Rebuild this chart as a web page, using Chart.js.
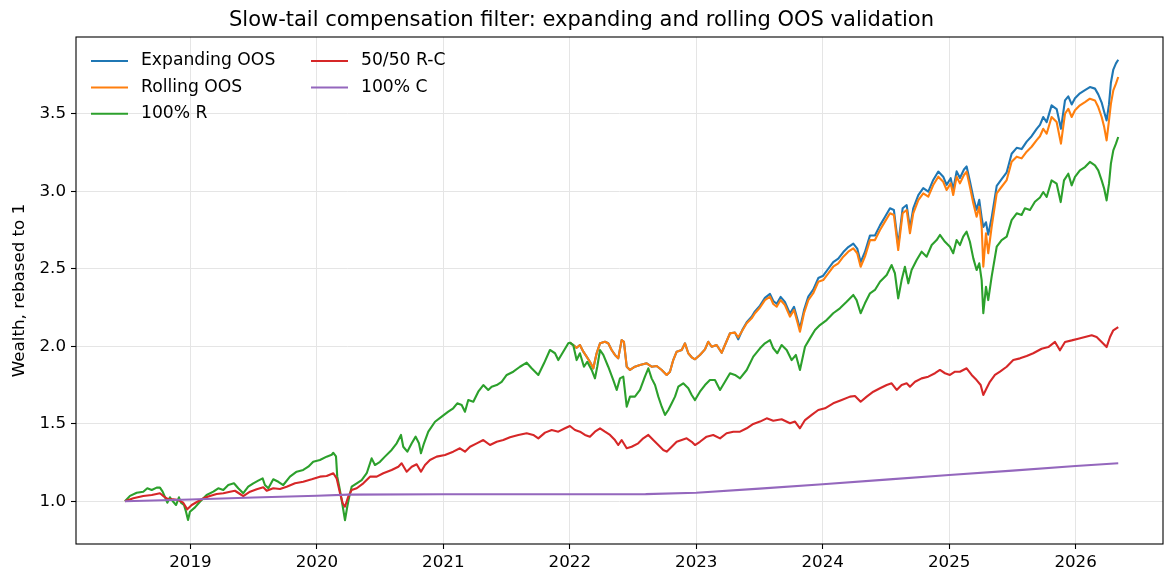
<!DOCTYPE html>
<html><head><meta charset="utf-8">
<script src="https://cdn.jsdelivr.net/npm/chart.js@4.4.1/dist/chart.umd.min.js"></script>
<style>html,body{margin:0;padding:0;background:#fff;}#wrap{width:1164px;height:576px;}</style>
</head><body>
<div id="wrap"><canvas id="c" width="1164" height="576"></canvas></div>
<script>
const chartTitle = 'Slow-tail compensation filter: expanding and rolling OOS validation';
const yAxisLabel = 'Wealth, rebased to 1';
const seriesNames = ['Expanding OOS', 'Rolling OOS', '100% R', '50/50 R-C', '100% C'];
const seriesColors = ['#1f77b4', '#ff7f0e', '#2ca02c', '#d62728', '#9467bd'];
const xTickYears = [2019, 2020, 2021, 2022, 2023, 2024, 2025, 2026];
const yTickValues = [1.0, 1.5, 2.0, 2.5, 3.0, 3.5];
const yTickLabels = ['1.0', '1.5', '2.0', '2.5', '3.0', '3.5'];

// 100% R
const rDates = [
2018.482,2018.522,2018.575,2018.627,2018.659,2018.694,2018.733,2018.759,2018.780,2018.799,
2018.817,2018.838,2018.864,2018.886,2018.909,2018.925,2018.949,2018.965,2018.981,2018.996,
2019.036,2019.075,2019.128,2019.181,2019.220,2019.260,2019.299,2019.344,2019.378,2019.418,
2019.457,2019.497,2019.536,2019.571,2019.589,2019.616,2019.655,2019.695,2019.734,2019.787,
2019.840,2019.892,2019.932,2019.971,2020.024,2020.077,2020.117,2020.130,2020.151,2020.161,
2020.177,2020.196,2020.209,2020.222,2020.240,2020.256,2020.275,2020.315,2020.354,2020.394,
2020.433,2020.459,2020.499,2020.538,2020.591,2020.631,2020.665,2020.683,2020.715,2020.750,
2020.781,2020.807,2020.823,2020.847,2020.881,2020.934,2020.987,2021.039,2021.078,2021.110,
2021.145,2021.171,2021.197,2021.237,2021.276,2021.316,2021.355,2021.382,2021.422,2021.461,
2021.501,2021.553,2021.606,2021.659,2021.698,2021.751,2021.796,2021.843,2021.883,2021.909,
2021.948,2021.988,2022.001,2022.027,2022.054,2022.080,2022.112,2022.138,2022.173,2022.199,
2022.217,2022.239,2022.265,2022.304,2022.344,2022.371,2022.397,2022.423,2022.450,2022.476,
2022.515,2022.555,2022.594,2022.621,2022.647,2022.674,2022.700,2022.727,2022.753,2022.779,
2022.806,2022.832,2022.858,2022.897,2022.937,2022.964,2022.990,2023.029,2023.069,2023.108,
2023.148,2023.188,2023.227,2023.267,2023.306,2023.346,2023.399,2023.451,2023.504,2023.543,
2023.583,2023.609,2023.641,2023.675,2023.715,2023.754,2023.788,2023.820,2023.860,2023.899,
2023.939,2023.978,2024.031,2024.083,2024.136,2024.189,2024.242,2024.268,2024.300,2024.334,
2024.374,2024.413,2024.453,2024.506,2024.545,2024.571,2024.597,2024.624,2024.650,2024.677,
2024.703,2024.743,2024.782,2024.822,2024.862,2024.901,2024.927,2024.967,2025.006,2025.032,
2025.059,2025.085,2025.111,2025.138,2025.164,2025.191,2025.217,2025.238,2025.257,2025.270,
2025.291,2025.309,2025.336,2025.376,2025.415,2025.455,2025.494,2025.534,2025.573,2025.599,
2025.639,2025.678,2025.718,2025.744,2025.771,2025.810,2025.850,2025.882,2025.908,2025.942,
2025.969,2025.995,2026.034,2026.074,2026.113,2026.153,2026.179,2026.206,2026.226,2026.245,
2026.264,2026.279,2026.298,2026.319,2026.337
];
const rValues = [
1.000,1.035,1.055,1.062,1.084,1.073,1.088,1.088,1.062,1.026,
0.991,1.026,0.997,0.976,1.026,0.991,0.976,0.933,0.879,0.933,
0.961,0.997,1.041,1.062,1.084,1.073,1.105,1.116,1.084,1.052,
1.094,1.116,1.133,1.148,1.105,1.084,1.142,1.126,1.105,1.159,
1.191,1.202,1.223,1.255,1.266,1.288,1.300,1.313,1.290,1.159,
1.094,1.008,0.944,0.878,0.965,1.030,1.094,1.116,1.137,1.181,
1.277,1.234,1.255,1.288,1.331,1.374,1.428,1.352,1.320,1.374,
1.417,1.374,1.310,1.374,1.449,1.513,1.546,1.578,1.600,1.632,
1.621,1.578,1.653,1.642,1.707,1.750,1.718,1.739,1.750,1.771,
1.815,1.836,1.868,1.894,1.858,1.815,1.890,1.976,1.955,1.911,
1.965,2.019,2.023,2.008,1.911,1.955,1.868,1.900,1.847,1.793,
1.868,1.976,1.944,1.868,1.782,1.718,1.793,1.804,1.610,1.675,
1.675,1.718,1.804,1.858,1.793,1.750,1.675,1.610,1.557,1.589,
1.632,1.675,1.739,1.761,1.729,1.686,1.653,1.707,1.750,1.782,
1.782,1.718,1.771,1.826,1.815,1.793,1.847,1.933,1.987,2.019,
2.040,1.987,1.955,2.008,1.976,1.911,1.944,1.847,1.997,2.051,
2.105,2.137,2.169,2.213,2.245,2.287,2.331,2.298,2.213,2.277,
2.342,2.363,2.416,2.460,2.524,2.471,2.309,2.427,2.513,2.406,
2.492,2.556,2.610,2.578,2.653,2.685,2.718,2.674,2.642,2.600,
2.685,2.653,2.707,2.739,2.674,2.567,2.492,2.535,2.427,2.213,
2.384,2.298,2.449,2.642,2.685,2.707,2.814,2.858,2.847,2.890,
2.879,2.932,2.960,2.995,2.963,3.070,3.049,2.930,3.070,3.113,
3.038,3.092,3.135,3.156,3.189,3.167,3.135,3.070,3.016,2.941,
3.049,3.178,3.264,3.307,3.350
];

// Expanding and Rolling OOS (share dates)
const oosDates = [
2022.001,2022.027,2022.054,2022.080,2022.107,2022.133,2022.159,2022.186,2022.212,2022.239,
2022.278,2022.304,2022.331,2022.357,2022.383,2022.410,2022.428,2022.450,2022.476,2022.515,
2022.555,2022.608,2022.647,2022.687,2022.727,2022.766,2022.792,2022.818,2022.845,2022.885,
2022.911,2022.937,2022.964,2022.990,2023.029,2023.069,2023.095,2023.122,2023.161,2023.201,
2023.227,2023.267,2023.306,2023.332,2023.367,2023.399,2023.438,2023.464,2023.504,2023.543,
2023.583,2023.609,2023.636,2023.667,2023.701,2023.741,2023.773,2023.799,2023.820,2023.852,
2023.886,2023.925,2023.965,2024.004,2024.044,2024.083,2024.123,2024.163,2024.202,2024.242,
2024.273,2024.300,2024.334,2024.374,2024.413,2024.453,2024.492,2024.532,2024.563,2024.597,
2024.632,2024.664,2024.690,2024.716,2024.756,2024.795,2024.835,2024.874,2024.914,2024.953,
2024.980,2025.012,2025.032,2025.059,2025.085,2025.117,2025.138,2025.164,2025.191,2025.217,
2025.238,2025.257,2025.270,2025.291,2025.309,2025.336,2025.376,2025.415,2025.455,2025.494,
2025.534,2025.573,2025.613,2025.652,2025.692,2025.718,2025.744,2025.771,2025.810,2025.850,
2025.884,2025.916,2025.942,2025.969,2025.995,2026.034,2026.074,2026.113,2026.153,2026.179,
2026.206,2026.226,2026.245,2026.264,2026.279,2026.298,2026.319,2026.337
];
const rollingValues = [
2.023,2.008,1.990,2.008,1.965,1.933,1.900,1.858,1.955,2.019,
2.029,2.019,1.976,1.944,1.922,2.040,2.029,1.868,1.847,1.868,
1.879,1.890,1.868,1.873,1.847,1.815,1.836,1.911,1.965,1.976,
2.019,1.955,1.929,1.916,1.944,1.980,2.029,1.997,2.008,1.958,
2.008,2.084,2.088,2.058,2.105,2.148,2.180,2.213,2.250,2.298,
2.320,2.273,2.255,2.298,2.266,2.191,2.234,2.158,2.094,2.213,
2.298,2.342,2.416,2.427,2.471,2.513,2.535,2.578,2.610,2.632,
2.600,2.513,2.578,2.685,2.685,2.750,2.804,2.858,2.847,2.621,
2.858,2.879,2.729,2.858,2.943,2.987,2.965,3.040,3.094,3.061,
3.008,3.051,2.976,3.094,3.051,3.105,3.126,3.029,2.922,2.836,
2.900,2.771,2.513,2.729,2.600,2.771,2.987,3.029,3.072,3.190,
3.223,3.212,3.255,3.287,3.330,3.355,3.403,3.371,3.479,3.446,
3.307,3.500,3.532,3.479,3.522,3.554,3.575,3.597,3.586,3.543,
3.479,3.414,3.328,3.457,3.564,3.651,3.694,3.737
];
const expandingValues = [
2.023,2.008,1.990,2.008,1.965,1.933,1.900,1.858,1.955,2.019,
2.029,2.019,1.976,1.944,1.922,2.040,2.029,1.868,1.847,1.868,
1.879,1.890,1.868,1.873,1.847,1.815,1.836,1.911,1.965,1.976,
2.019,1.955,1.929,1.916,1.944,1.980,2.029,1.997,2.008,1.958,
2.008,2.084,2.088,2.045,2.110,2.155,2.190,2.225,2.262,2.312,
2.338,2.292,2.274,2.318,2.286,2.211,2.254,2.178,2.114,2.233,
2.320,2.365,2.440,2.455,2.500,2.543,2.565,2.608,2.640,2.662,
2.630,2.543,2.608,2.715,2.715,2.780,2.834,2.890,2.879,2.651,
2.890,2.911,2.760,2.890,2.975,3.020,2.998,3.073,3.127,3.094,
3.041,3.084,3.010,3.128,3.085,3.140,3.160,3.065,2.960,2.880,
2.945,2.830,2.770,2.800,2.720,2.830,3.035,3.078,3.122,3.242,
3.280,3.272,3.320,3.355,3.402,3.428,3.479,3.446,3.554,3.530,
3.403,3.586,3.612,3.560,3.600,3.632,3.652,3.672,3.662,3.625,
3.572,3.511,3.457,3.560,3.700,3.785,3.825,3.848
];

// 50/50 R-C
const mixDates = [
2018.482,2018.548,2018.627,2018.694,2018.759,2018.785,2018.825,2018.864,2018.904,2018.943,
2018.975,2019.010,2019.054,2019.102,2019.154,2019.207,2019.260,2019.313,2019.352,2019.392,
2019.418,2019.471,2019.524,2019.576,2019.603,2019.655,2019.708,2019.761,2019.827,2019.892,
2019.959,2020.024,2020.077,2020.130,2020.156,2020.183,2020.204,2020.222,2020.248,2020.275,
2020.315,2020.367,2020.420,2020.473,2020.525,2020.591,2020.644,2020.670,2020.710,2020.750,
2020.789,2020.823,2020.855,2020.894,2020.947,2021.013,2021.078,2021.131,2021.171,2021.211,
2021.264,2021.316,2021.369,2021.422,2021.474,2021.527,2021.593,2021.659,2021.711,2021.751,
2021.804,2021.857,2021.909,2021.962,2022.001,2022.041,2022.080,2022.120,2022.159,2022.199,
2022.239,2022.278,2022.318,2022.357,2022.383,2022.410,2022.450,2022.489,2022.541,2022.581,
2022.621,2022.660,2022.700,2022.739,2022.766,2022.806,2022.845,2022.885,2022.924,2022.964,
2022.990,2023.029,2023.082,2023.134,2023.188,2023.240,2023.293,2023.346,2023.399,2023.451,
2023.504,2023.557,2023.609,2023.675,2023.741,2023.781,2023.820,2023.860,2023.913,2023.965,
2024.018,2024.083,2024.150,2024.216,2024.255,2024.300,2024.348,2024.400,2024.453,2024.506,
2024.545,2024.585,2024.624,2024.664,2024.690,2024.730,2024.782,2024.835,2024.888,2024.927,
2024.967,2025.006,2025.046,2025.085,2025.138,2025.178,2025.217,2025.249,2025.270,2025.296,
2025.322,2025.362,2025.402,2025.455,2025.507,2025.560,2025.613,2025.665,2025.731,2025.784,
2025.837,2025.876,2025.916,2025.969,2026.021,2026.074,2026.127,2026.166,2026.206,2026.245,
2026.272,2026.298,2026.337
];
const mixValues = [
1.000,1.019,1.034,1.041,1.052,1.034,1.013,1.013,1.008,0.991,
0.948,0.976,0.997,1.019,1.034,1.047,1.052,1.062,1.068,1.047,
1.034,1.062,1.077,1.090,1.068,1.084,1.079,1.094,1.116,1.126,
1.142,1.159,1.163,1.181,1.148,1.052,0.987,0.965,1.030,1.073,
1.084,1.116,1.159,1.159,1.181,1.202,1.223,1.245,1.191,1.223,
1.239,1.191,1.234,1.266,1.288,1.299,1.320,1.342,1.320,1.352,
1.374,1.395,1.363,1.384,1.395,1.413,1.428,1.439,1.428,1.406,
1.443,1.460,1.449,1.471,1.486,1.460,1.449,1.428,1.417,1.449,
1.471,1.449,1.428,1.395,1.363,1.395,1.342,1.352,1.374,1.406,
1.428,1.395,1.363,1.331,1.320,1.352,1.384,1.395,1.406,1.384,
1.363,1.384,1.417,1.428,1.406,1.439,1.449,1.449,1.471,1.499,
1.514,1.535,1.520,1.529,1.503,1.514,1.471,1.524,1.557,1.589,
1.600,1.632,1.653,1.675,1.679,1.642,1.675,1.707,1.729,1.750,
1.761,1.718,1.750,1.761,1.739,1.771,1.793,1.804,1.826,1.847,
1.826,1.815,1.836,1.836,1.858,1.815,1.782,1.750,1.686,1.729,
1.771,1.815,1.836,1.868,1.911,1.922,1.937,1.955,1.984,1.995,
2.028,1.974,2.028,2.038,2.049,2.060,2.071,2.060,2.028,1.995,
2.060,2.103,2.124
];

// 100% C
const cashDates = [2018.482,2019.0,2019.5,2020.0,2020.25,2021.0,2022.0,2022.6,2023.0,2023.5,2024.0,2024.5,2025.0,2025.5,2026.0,2026.337];
const cashValues = [1.000,1.012,1.024,1.036,1.043,1.045,1.045,1.046,1.055,1.082,1.110,1.140,1.170,1.198,1.228,1.245];

const FONT = 'DejaVu Sans';
function pts(d, v) { return d.map((x, i) => ({x: x, y: v[i]})); }
function ds(i, data, order) {
  return {label: seriesNames[i], data: data, borderColor: seriesColors[i], backgroundColor: seriesColors[i],
    borderWidth: 2.1, pointRadius: 0, pointHoverRadius: 0, tension: 0, fill: false, order: order,
    borderJoinStyle: 'round', borderCapStyle: 'butt'};
}
const datasets = [
  ds(0, pts(oosDates, expandingValues), 5),
  ds(1, pts(oosDates, rollingValues), 4),
  ds(2, pts(rDates, rValues), 3),
  ds(3, pts(mixDates, mixValues), 2),
  ds(4, pts(cashDates, cashValues), 1)
];

const framePlugin = {
  id: 'frame',
  afterDraw(chart) {
    const ctx = chart.ctx, a = chart.chartArea;
    ctx.save();
    ctx.strokeStyle = '#000'; ctx.lineWidth = 1.1;
    ctx.strokeRect(a.left, a.top, a.right - a.left, a.bottom - a.top);
    // legend (two columns, column-major order like matplotlib ncol=2)
    ctx.font = '17.2px "' + FONT + '"';
    ctx.textBaseline = 'middle';
    const cols = [[0, 1, 2], [3, 4]];
    const colX = [15, 235];
    const rowY = [24, 50.5, 76.7];
    cols.forEach((col, ci) => {
      col.forEach((si, ri) => {
        const x0 = a.left + colX[ci], y = a.top + rowY[ri];
        ctx.strokeStyle = seriesColors[si]; ctx.lineWidth = 2.1;
        ctx.beginPath(); ctx.moveTo(x0, y); ctx.lineTo(x0 + 37, y); ctx.stroke();
        ctx.fillStyle = '#000';
        ctx.fillText(seriesNames[si], x0 + 50, y);
      });
    });
    ctx.restore();
  }
};

new Chart(document.getElementById('c'), {
  type: 'line',
  data: {datasets: datasets},
  options: {
    responsive: false, animation: false, devicePixelRatio: 1,
    layout: {padding: {left: 0, right: 1, top: 0, bottom: 0}},
    plugins: {
      legend: {display: false},
      tooltip: {enabled: false},
      title: {display: true, text: chartTitle, color: '#000',
        font: {family: FONT, size: 21, weight: 'normal', lineHeight: 1.2},
        padding: {top: 8, bottom: 3.8}}
    },
    scales: {
      x: {
        type: 'linear', min: 2018.095, max: 2026.691,
        afterBuildTicks: s => { s.ticks = xTickYears.map(v => ({value: v})); },
        afterFit: s => { s.height = 32; },
        ticks: {callback: v => String(v), color: '#000', font: {family: FONT, size: 16.7}, padding: 4, maxRotation: 0, autoSkip: false},
        grid: {color: '#e5e5e5', lineWidth: 1, tickColor: '#000', tickLength: 5, tickWidth: 1.1},
        border: {display: false}
      },
      y: {
        type: 'linear', min: 0.7245, max: 3.995,
        afterBuildTicks: s => { s.ticks = yTickValues.map(v => ({value: v})); },
        afterFit: s => { s.width = 76; },
        ticks: {callback: (v) => yTickLabels[yTickValues.indexOf(v)] || v.toFixed(1), color: '#000', font: {family: FONT, size: 16.7}, padding: 5},
        grid: {color: '#e5e5e5', lineWidth: 1, tickColor: '#000', tickLength: 5, tickWidth: 1.1},
        border: {display: false},
        title: {display: true, text: yAxisLabel, color: '#000', font: {family: FONT, size: 16.7}, padding: {top: 10, bottom: 0}}
      }
    }
  },
  plugins: [framePlugin]
});
</script>
</body></html>
